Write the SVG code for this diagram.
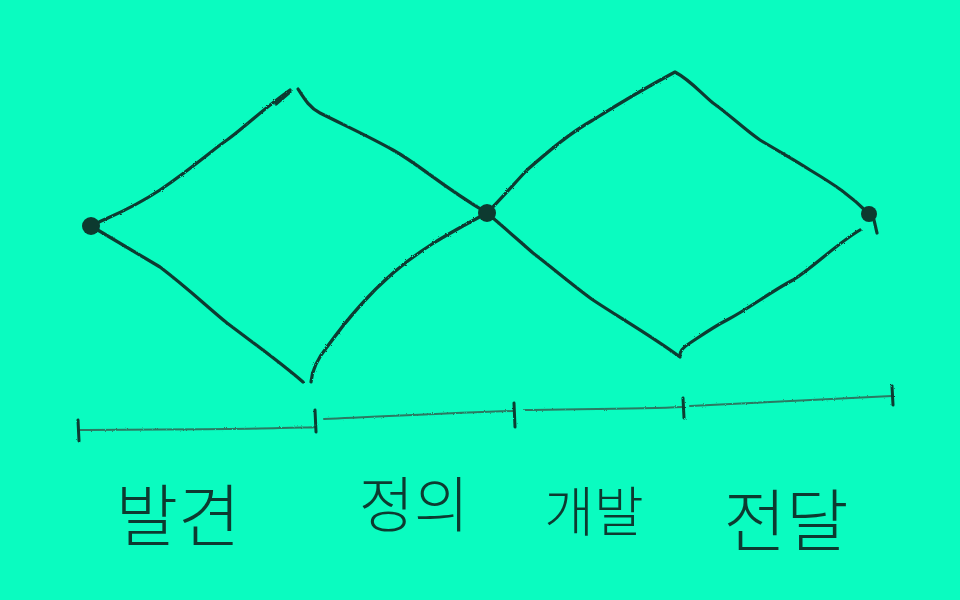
<svg xmlns="http://www.w3.org/2000/svg" width="960" height="600" viewBox="0 0 960 600">
<defs>
<filter id="rough" x="-5%" y="-5%" width="110%" height="110%">
<feTurbulence type="fractalNoise" baseFrequency="0.9" numOctaves="2" seed="3" result="n"/>
<feDisplacementMap in="SourceGraphic" in2="n" scale="2.2"/>
</filter>
<style>
.ln{fill:none;stroke:#0d3a30;stroke-width:3.2;stroke-linecap:round;stroke-linejoin:round}
.tl{fill:none;stroke:#2a7a62;stroke-width:2;stroke-linecap:round}
.tk{fill:none;stroke:#0d3a30;stroke-width:3;stroke-linecap:round}
.dot{fill:#0d3a30}
.lbl{font-family:"Noto Sans CJK KR","Noto Sans",sans-serif;font-weight:300;fill:#0d3a30;text-anchor:middle}
</style>
</defs>
<rect width="960" height="600" fill="#0afcc0"/>
<g id="connectors" filter="url(#rough)">
<path class="ln" d="M91,226 C107,217 125,213 160,190 C195,166 215,148 227,140 C245,127 258,113 290,90"/>
<path class="ln" d="M276,104 L290,92" stroke-width="6"/>
<path class="ln" d="M298,89 C305,100 310,108 320,113 C350,128 370,137 393,150 C420,165 440,185 487,213"/>
<path class="ln" d="M91,226 C120,243 140,255 160,267 C190,290 205,305 227,323 C260,348 280,362 303,382"/>
<path class="ln" d="M311,382 C312,370 318,358 327,347 C350,315 370,293 393,273 C420,250 440,238 487,213"/>
<path class="ln" d="M487,213 C500,200 513,185 527,170 C550,150 570,133 593,120 C620,103 645,88 675,72 C690,80 700,92 713,103 C730,115 745,130 760,140 C780,152 795,160 810,170 C835,185 850,195 869,214"/>
<path class="ln" d="M487,213 C505,228 518,240 533,253 C555,270 575,287 593,300 C620,318 650,335 680,357 C679,351 685,346 690,343 C705,333 715,326 727,320 C750,308 770,292 793,280 C815,266 835,245 860,230"/>
<path class="ln" d="M874,220 L877,233" stroke-width="2"/>
<path class="tl" d="M78,430 C150,429 220,430 280,428 C300,427 310,428 316,427"/>
<path class="tl" d="M324,419 C380,417 440,413 513,411"/>
<path class="tl" d="M525,410 C580,409 640,409 683,407"/>
<path class="tl" d="M690,406 C760,402 830,399 892,396"/>
<path class="tk" d="M78,420 L79,441" stroke-width="2"/>
<path class="tk" d="M315,410 L316,432"/>
<path class="tk" d="M514,403 L515,427"/>
<path class="tk" d="M683,398 L684,418"/>
<path class="tk" d="M892,386 L893,405"/>
</g>
<g id="node-start"><circle class="dot" cx="91" cy="226" r="9"/></g>
<g id="node-mid"><circle class="dot" cx="487" cy="213" r="9"/></g>
<g id="node-end"><circle class="dot" cx="869" cy="214" r="8"/></g>
<g id="label-discover"><text class="lbl" x="178" y="541" font-size="68">발견</text></g>
<g id="label-define"><text class="lbl" x="414" y="527" font-size="60">정의</text></g>
<g id="label-develop"><text class="lbl" x="594" y="532" font-size="54">개발</text></g>
<g id="label-deliver"><text class="lbl" x="786" y="546" font-size="68">전달</text></g>
</svg>
